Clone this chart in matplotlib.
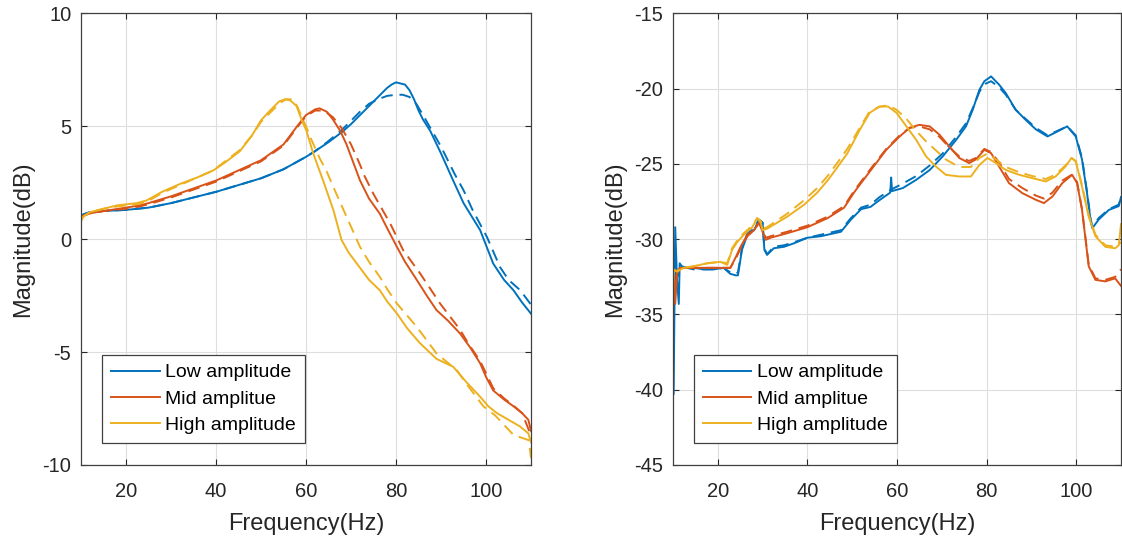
import matplotlib.pyplot as plt

plt.rcParams['font.family'] = ['Liberation Sans', 'DejaVu Sans']
plt.rcParams['axes.unicode_minus'] = False

# ---- left panel: magnitude response (dB), solid = measured, dashed = second run ----
low_f = [10, 10.5, 12, 15, 20, 25, 30, 35, 40, 45, 50, 55, 60, 62, 65, 68, 70, 72, 74, 76, 78, 79, 80, 81, 82, 83, 84, 85, 86, 87.6, 90, 92.7, 95, 98.7, 101.6, 104, 106.1, 108, 110]
low_m = [0.9, 1.1, 1.2, 1.25, 1.3, 1.4, 1.6, 1.85, 2.1, 2.4, 2.7, 3.1, 3.65, 3.9, 4.3, 4.75, 5.1, 5.5, 5.9, 6.3, 6.7, 6.85, 6.95, 6.9, 6.85, 6.6, 6.2, 5.7, 5.3, 4.8, 3.8, 2.6, 1.6, 0.4, -1.08, -1.8, -2.26, -2.8, -3.3]
low_d_f = [10, 10.5, 12, 15, 20, 25, 30, 35, 40, 45, 50, 55, 60, 62, 65, 68, 70, 72, 74, 76, 78, 80, 81.5, 83, 84.5, 86, 88, 90, 93, 95, 97, 100.2, 103.1, 105, 107.6, 110]
low_d_m = [0.95, 1.1, 1.2, 1.25, 1.3, 1.4, 1.6, 1.85, 2.1, 2.4, 2.7, 3.1, 3.65, 3.9, 4.35, 4.85, 5.25, 5.65, 6.0, 6.2, 6.35, 6.4, 6.4, 6.3, 6.0, 5.5, 4.8, 4.1, 2.9, 2.17, 1.3, 0.1, -1.23, -1.8, -2.26, -2.9]

mid_f = [10, 12, 15, 20, 23, 25, 30, 35, 40, 45, 50, 55, 58, 60, 62, 63, 64.6, 66, 67.6, 69, 70.5, 72, 74, 76.4, 78, 80.2, 82, 84.6, 87, 89, 91.5, 94.2, 96.5, 98.7, 100, 101.6, 104, 106.1, 108, 109.4, 110]
mid_m = [1.0, 1.15, 1.25, 1.4, 1.5, 1.6, 1.9, 2.25, 2.6, 3.05, 3.5, 4.2, 5.0, 5.5, 5.75, 5.8, 5.65, 5.3, 4.8, 4.2, 3.4, 2.6, 1.8, 1.13, 0.5, -0.34, -1.0, -1.8, -2.55, -3.14, -3.6, -4.17, -4.8, -5.5, -6.1, -6.7, -7.1, -7.4, -7.7, -8.0, -8.5]
mid_d_f = [10, 12, 15, 20, 23, 25, 30, 35, 40, 45, 50, 55, 58, 60, 62, 64, 66, 68, 70, 72, 73, 75, 78.7, 81.6, 85.3, 89.8, 94.2, 96, 98.7, 101.6, 104, 106, 108, 110]
mid_d_m = [1.0, 1.15, 1.25, 1.35, 1.45, 1.55, 1.85, 2.2, 2.55, 3.0, 3.45, 4.15, 4.95, 5.45, 5.7, 5.7, 5.4, 4.9, 4.2, 3.3, 2.8, 2.0, 0.7, -0.49, -1.5, -2.85, -4.0, -4.6, -5.4, -6.6, -7.05, -7.35, -7.7, -8.7]

high_f = [10, 10.5, 12, 15, 18, 22.4, 24.6, 28, 32, 36, 39.4, 42, 45.3, 48, 50, 52, 54, 55.3, 56.5, 57.9, 59, 60.1, 61.6, 63.8, 66.1, 67.9, 69.5, 71.3, 74, 76.4, 78, 80.2, 82.5, 85.3, 89, 92.7, 95.5, 98.7, 100.5, 102.4, 105, 107.6, 109.4, 110]
high_m = [0.8, 1.0, 1.2, 1.35, 1.5, 1.6, 1.72, 2.1, 2.45, 2.75, 3.05, 3.4, 3.9, 4.6, 5.27, 5.7, 6.1, 6.2, 6.15, 5.9, 5.3, 4.8, 3.8, 2.6, 1.28, -0.04, -0.6, -1.08, -1.8, -2.26, -2.75, -3.29, -3.95, -4.6, -5.3, -5.65, -6.3, -6.98, -7.4, -7.7, -8.0, -8.3, -8.6, -9.0]
high_d_f = [10, 10.5, 12, 15, 18, 22.4, 24.6, 28, 32, 36, 39.4, 42, 45.3, 48, 50, 52, 54, 55.5, 57, 58, 60, 61, 63, 64.6, 66.1, 69, 72, 74, 76.4, 78, 80.2, 84.6, 89, 93.5, 96, 99.4, 102, 106.1, 108, 109.5, 110]
high_d_m = [0.85, 1.0, 1.2, 1.35, 1.45, 1.55, 1.65, 2.05, 2.4, 2.75, 3.05, 3.45, 3.95, 4.6, 5.2, 5.6, 6.0, 6.2, 6.2, 5.9, 5.0, 4.5, 3.6, 3.0, 2.3, 1.0, -0.34, -1.0, -1.67, -2.2, -2.85, -3.88, -5.06, -5.8, -6.5, -7.4, -7.8, -8.67, -8.8, -8.9, -9.7]

# ---- right panel ----
r_low_f = [10, 10.15, 10.5, 10.9, 11.3, 11.5, 12, 13.1, 14.6, 16.9, 19.1, 21.3, 22.8, 24, 24.5, 25.4, 26.6, 28.1, 29.2, 30, 30.4, 31, 32.5, 34.8, 37, 40, 43, 47.5, 49.7, 52, 54.1, 56.1, 58.5, 58.7, 58.9, 61.3, 64.3, 67.3, 70.2, 73.2, 75.4, 76.9, 78.4, 79.5, 81, 82.8, 84.3, 86.5, 88.7, 91, 93.6, 95.8, 98, 99.9, 101.3, 102.4, 103.2, 103.6, 105, 107.3, 109.5, 110]
r_low_m = [-29.5, -40.3, -29.2, -32.7, -34.3, -31.6, -31.8, -31.9, -31.9, -32.0, -32.0, -31.9, -32.3, -32.4, -32.4, -30.7, -29.7, -29.4, -28.7, -28.9, -30.7, -31.04, -30.6, -30.5, -30.27, -29.9, -29.8, -29.5, -28.7, -28.0, -27.85, -27.4, -26.9, -25.9, -26.8, -26.6, -26.05, -25.4, -24.5, -23.4, -22.5, -21.4, -20.07, -19.5, -19.18, -19.73, -20.3, -21.4, -22.06, -22.7, -23.17, -22.84, -22.5, -23.17, -24.7, -26.9, -28.7, -29.27, -28.7, -28.05, -27.8, -27.2]
r_low_d_f = [10, 10.3, 10.6, 11, 12, 13.1, 14.6, 16.9, 19.1, 21.3, 22.8, 24, 24.5, 25.4, 26.6, 28.1, 29.2, 30, 30.4, 31, 32.5, 34.8, 37, 40, 43, 47.5, 49.7, 52, 54.1, 56.1, 58.7, 61.3, 64.3, 67.3, 70.2, 73.2, 75.4, 76.9, 78.4, 79.5, 81, 82.8, 84.3, 86.5, 88.7, 91, 93.6, 95.8, 98, 99.9, 101.3, 102.4, 103.2, 103.6, 105, 107.3, 109.5, 110]
r_low_d_m = [-30.5, -33.5, -31.2, -32.5, -31.9, -31.9, -32.0, -32.0, -32.0, -31.9, -32.2, -32.3, -32.2, -30.6, -29.6, -29.3, -28.7, -28.9, -30.6, -31.0, -30.5, -30.4, -30.2, -29.9, -29.7, -29.4, -28.6, -27.9, -27.7, -27.2, -26.7, -26.3, -25.8, -25.1, -24.3, -23.2, -22.3, -21.3, -20.2, -19.7, -19.5, -19.9, -20.4, -21.4, -22.0, -22.6, -23.1, -22.8, -22.5, -23.1, -24.6, -26.8, -28.6, -29.2, -28.6, -28.0, -27.7, -27.1]

r_mid_f = [10, 10.3, 10.5, 10.9, 11.6, 14.6, 18.4, 21.3, 22.8, 24, 25.1, 26.6, 28.1, 29.2, 30, 30.7, 31.8, 35.5, 40, 44.5, 48.2, 50.4, 51.9, 54.7, 57.6, 60.6, 62.8, 65, 67.3, 69.5, 71.7, 73.9, 76.1, 77.6, 79.5, 81, 82.8, 85, 88, 91, 92.8, 94.7, 96.9, 99.1, 100.2, 101.3, 102.8, 104.3, 106.5, 108.7, 110]
r_mid_m = [-32.0, -32.7, -34.3, -32.3, -31.9, -31.9, -31.9, -31.9, -31.9, -31.2, -30.5, -29.7, -29.4, -28.9, -29.5, -30.04, -29.9, -29.6, -29.2, -28.6, -27.9, -26.9, -26.3, -25.2, -24.06, -23.17, -22.6, -22.4, -22.5, -23.06, -23.84, -24.6, -24.94, -24.7, -24.06, -24.28, -25.17, -26.27, -26.94, -27.38, -27.6, -27.16, -26.27, -25.72, -26.27, -28.05, -31.8, -32.7, -32.8, -32.6, -33.1]
r_mid_d_f = [10, 10.5, 11, 11.6, 14.6, 18.4, 21.3, 22.8, 24, 25.1, 26.6, 28.1, 29.2, 30, 30.7, 31.8, 35.5, 40, 44.5, 48.2, 50.4, 51.9, 54.7, 57.6, 60.6, 62.8, 65, 67.3, 69.5, 71.7, 73.9, 76.1, 77.6, 79.5, 81, 82.8, 85, 88, 91, 92.8, 94.7, 96.9, 99.1, 100.2, 101.3, 102.8, 104.3, 106.5, 108.7, 110]
r_mid_d_m = [-32.2, -33.0, -32.1, -31.9, -31.9, -31.9, -31.9, -31.9, -31.3, -30.6, -29.8, -29.4, -28.9, -29.4, -29.9, -29.8, -29.5, -29.1, -28.5, -27.8, -26.8, -26.2, -25.1, -24.0, -23.1, -22.6, -22.5, -22.7, -23.2, -23.9, -24.5, -24.8, -24.6, -24.0, -24.2, -24.9, -26.0, -26.6, -27.1, -27.3, -26.9, -26.1, -25.7, -26.2, -28.0, -31.7, -32.6, -32.7, -32.5, -32.0]

r_high_f = [10, 10.15, 10.9, 12.4, 14.6, 17.6, 20.6, 22.1, 23.2, 24.3, 25.8, 27.7, 28.8, 29.6, 30, 31, 35.5, 39.3, 42.2, 44.5, 46.5, 48.9, 51.7, 53.9, 56.1, 58, 59.9, 62.1, 64.3, 66.5, 68.7, 70.9, 73.9, 76.5, 78.4, 80.2, 82.1, 84.3, 87.3, 90.2, 93.2, 95.4, 97.6, 98.96, 99.9, 101.3, 102.8, 104.3, 106.5, 108.7, 109.5, 110]
r_high_m = [-33.7, -32.0, -32.15, -31.9, -31.8, -31.6, -31.5, -31.7, -30.7, -30.2, -29.7, -29.2, -28.6, -28.9, -29.4, -29.3, -28.5, -27.7, -26.9, -26.1, -25.3, -24.3, -22.73, -21.6, -21.18, -21.18, -21.6, -22.5, -23.4, -24.5, -25.17, -25.72, -25.83, -25.83, -25.06, -24.6, -24.94, -25.4, -25.72, -25.94, -26.16, -25.83, -25.17, -24.6, -24.83, -26.5, -28.5, -29.8, -30.5, -30.6, -30.4, -29.0]
r_high_d_f = [10, 10.3, 10.9, 12.4, 14.6, 17.6, 20.6, 22.1, 23.2, 24.3, 25.8, 27.7, 28.8, 29.6, 30, 31, 35.5, 39.3, 42.2, 44.5, 46.5, 48.9, 51.7, 53.9, 56.1, 58, 59.9, 62.1, 64.3, 66.5, 68.7, 70.9, 73.9, 76.5, 78.4, 80.2, 82.1, 84.3, 87.3, 90.2, 93.2, 95.4, 97.6, 98.96, 99.9, 101.3, 102.8, 104.3, 106.5, 108.7, 110]
r_high_d_m = [-32.5, -32.1, -32.1, -31.9, -31.8, -31.6, -31.5, -31.6, -30.6, -30.1, -29.6, -29.1, -28.6, -28.8, -29.3, -29.2, -28.3, -27.4, -26.6, -25.8, -25.0, -24.0, -22.6, -21.5, -21.2, -21.1, -21.4, -22.0, -22.8, -23.5, -24.1, -24.7, -25.2, -25.2, -24.6, -24.3, -24.7, -25.2, -25.55, -25.8, -26.0, -25.7, -25.1, -24.6, -24.8, -26.4, -28.4, -29.7, -30.4, -30.5, -30.2]

labels = ['Low amplitude', 'Mid amplitue', 'High amplitude']
colors = ['#0072BD', '#D95319', '#EDB120']

fig = plt.figure(figsize=(11.22, 5.42), dpi=100)
ax1 = fig.add_axes([0.0722, 0.1421, 0.4011, 0.833])
ax2 = fig.add_axes([0.5998, 0.1421, 0.3993, 0.833])

left_sets = [(low_f, low_m, low_d_f, low_d_m), (mid_f, mid_m, mid_d_f, mid_d_m), (high_f, high_m, high_d_f, high_d_m)]
right_sets = [(r_low_f, r_low_m, r_low_d_f, r_low_d_m), (r_mid_f, r_mid_m, r_mid_d_f, r_mid_d_m), (r_high_f, r_high_m, r_high_d_f, r_high_d_m)]

for ax, sets in ((ax1, left_sets), (ax2, right_sets)):
    lines = []
    for (f, m, fd, md), c, lab in zip(sets, colors, labels):
        l, = ax.plot(f, m, color=c, lw=1.4, label=lab)
        ax.plot(fd, md, color=c, lw=1.4, dashes=(6, 3.5))
        lines.append(l)
    ax.set_xlim(10, 110)
    ax.set_xticks([20, 40, 60, 80, 100])
    ax.grid(True, color='#dedede', lw=0.8)
    ax.set_axisbelow(True)
    ax.tick_params(direction='in', length=4, width=0.8, top=True, right=True,
                   labelsize=14.5, colors='#262626', pad=7)
    ax.tick_params(axis='x', pad=12)
    for s in ax.spines.values():
        s.set_color('#404040')
        s.set_linewidth(0.9)
    ax.set_xlabel('Frequency(Hz)', fontsize=17, color='#262626', labelpad=9)
    ax.set_ylabel('Magnitude(dB)', fontsize=17, color='#262626', labelpad=6)
    leg = ax.legend(handles=lines, loc='lower left', bbox_to_anchor=(0.047, 0.049),
                    borderaxespad=0, fontsize=14, handlelength=2.5, handletextpad=0.3,
                    labelspacing=0.45, borderpad=0.45, fancybox=False, framealpha=1)
    leg.get_frame().set_edgecolor('#404040')
    leg.get_frame().set_linewidth(0.9)

ax1.set_ylim(-10, 10)
ax1.set_yticks([-10, -5, 0, 5, 10])
ax2.set_ylim(-45, -15)
ax2.set_yticks([-45, -40, -35, -30, -25, -20, -15])

plt.savefig('out.png', dpi=100)
